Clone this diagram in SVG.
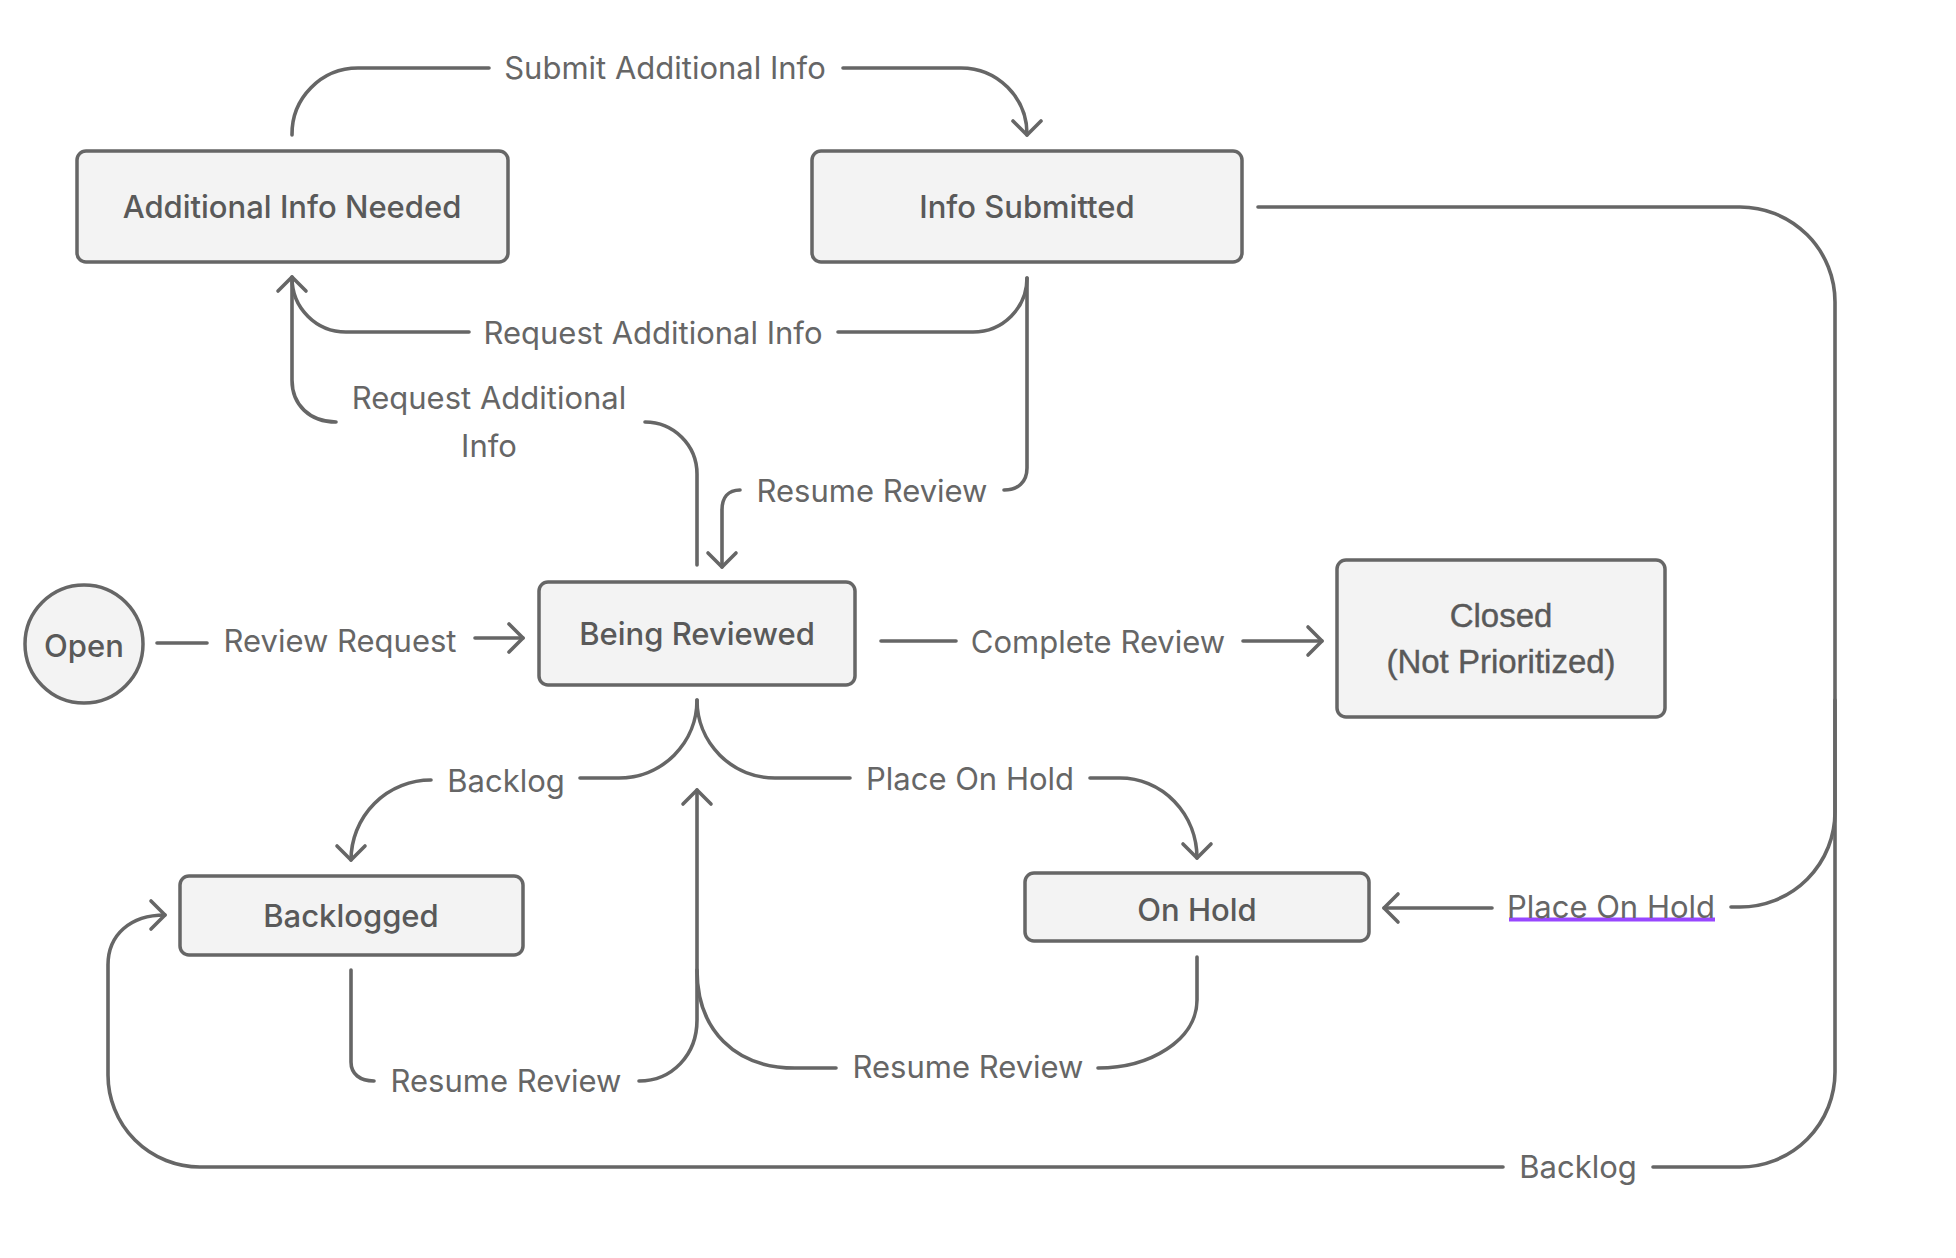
<svg xmlns="http://www.w3.org/2000/svg" width="1956" height="1258" viewBox="0 0 1956 1258">
<style>
.node{fill:#f3f3f3;stroke:#666;stroke-width:3.5}
.nt{font-family:Inter,"Noto Sans",sans-serif;font-size:31px;font-weight:500;fill:#595959;text-anchor:middle}
.nt2{font-family:"Liberation Sans",Arial,sans-serif;font-size:33px;fill:#595959;stroke:#595959;stroke-width:0.4;text-anchor:middle}
.c{fill:none;stroke:#666;stroke-width:3.6;stroke-linecap:round;stroke-linejoin:round}
.a{marker-end:url(#arr)}
.lb{font-family:Inter,"Noto Sans",sans-serif;font-size:31px;fill:#666;text-anchor:middle}
</style>
<defs>
<marker id="arr" markerUnits="userSpaceOnUse" markerWidth="40" markerHeight="40" viewBox="-20 -20 40 40" refX="0" refY="0" orient="auto">
<path d="M-14,-14 L0,0 L-14,14" fill="none" stroke="#666" stroke-width="3.6" stroke-linecap="round" stroke-linejoin="round"/>
</marker>
</defs>
<rect width="1956" height="1258" fill="#fff"/>
<g id="connectors">
<path class="c" d="M292 135 A66 66 0 0 1 358 68 H489"/>
<path class="c a" d="M843 68 H961 A66 66 0 0 1 1027 134 V135"/>
<path class="c" d="M1027 278 A54 54 0 0 1 973 332 H838"/>
<path class="c a" d="M469 332 H346 A54 54 0 0 1 292 278 V277"/>
<path class="c" d="M697 565 V474 A52 52 0 0 0 645 422"/>
<path class="c" d="M336 422 C310 422 292 405 292 380 V278"/>
<path class="c" d="M1027 278 V468 C1027 482 1018 490 1004 490"/>
<path class="c a" d="M740 490 C728 490 722 498 722 510 V567"/>
<path class="c" d="M157 643 H207"/>
<path class="c a" d="M475 638 H523"/>
<path class="c" d="M881 641 H956"/>
<path class="c a" d="M1243 641 H1322"/>
<path class="c" d="M697 700 A78 78 0 0 1 619 778 H580"/>
<path class="c a" d="M431 780 A80 80 0 0 0 351 860"/>
<path class="c" d="M697 700 A78 78 0 0 0 775 778 H850"/>
<path class="c a" d="M1090 778 H1120 A77 80 0 0 1 1197 858"/>
<path class="c" d="M351 970 V1062 C351 1074 360 1081 374 1081"/>
<path class="c a" d="M639 1081 C672 1081 697 1055 697 1020 V790"/>
<path class="c" d="M836 1068 H795 C735 1068 697 1030 697 970"/>
<path class="c" d="M1197 957 V1000 C1197 1040 1150 1068 1098 1068"/>
<path class="c" d="M1258 207 H1740 A95 95 0 0 1 1835 302 V812 A95 95 0 0 1 1740 907 H1731"/>
<path class="c a" d="M1492 908 H1384"/>
<path class="c" d="M1835 700 V1072 A95 95 0 0 1 1740 1167 H1653"/>
<path class="c a" d="M1503 1167 H200 A92 92 0 0 1 108 1075 V965 C108 935 130 915 165 915"/>
<line x1="1509" y1="919.5" x2="1715" y2="919.5" stroke="#9747ff" stroke-width="4"/>
<text class="lb" x="665" y="79">Submit Additional Info</text>
<text class="lb" x="653" y="344">Request Additional Info</text>
<text class="lb" x="489" y="409">Request Additional</text>
<text class="lb" x="489" y="457">Info</text>
<text class="lb" x="872" y="502">Resume Review</text>
<text class="lb" x="340" y="652">Review Request</text>
<text class="lb" x="1098" y="653">Complete Review</text>
<text class="lb" x="506" y="792">Backlog</text>
<text class="lb" x="970" y="790">Place On Hold</text>
<text class="lb" x="1611" y="918">Place On Hold</text>
<text class="lb" x="506" y="1092">Resume Review</text>
<text class="lb" x="968" y="1078">Resume Review</text>
<text class="lb" x="1578" y="1178">Backlog</text>
</g>
<g id="node-additional-info-needed">
<rect class="node" x="77" y="151" width="431" height="111" rx="9"/>
<text class="nt" x="292" y="218">Additional Info Needed</text>
</g>
<g id="node-info-submitted">
<rect class="node" x="812" y="151" width="430" height="111" rx="9"/>
<text class="nt" x="1027" y="218">Info Submitted</text>
</g>
<g id="node-open">
<circle class="node" cx="84" cy="644" r="59"/>
<text class="nt" x="84" y="657">Open</text>
</g>
<g id="node-being-reviewed">
<rect class="node" x="539" y="582" width="316" height="103" rx="9"/>
<text class="nt" x="697" y="645">Being Reviewed</text>
</g>
<g id="node-closed">
<rect class="node" x="1337" y="560" width="328" height="157" rx="9"/>
<text class="nt2" x="1501" y="627">Closed</text>
<text class="nt2" x="1501" y="673">(Not Prioritized)</text>
</g>
<g id="node-backlogged">
<rect class="node" x="180" y="876" width="343" height="79" rx="9"/>
<text class="nt" x="351" y="927">Backlogged</text>
</g>
<g id="node-on-hold">
<rect class="node" x="1025" y="873" width="344" height="68" rx="9"/>
<text class="nt" x="1197" y="921">On Hold</text>
</g>
</svg>
